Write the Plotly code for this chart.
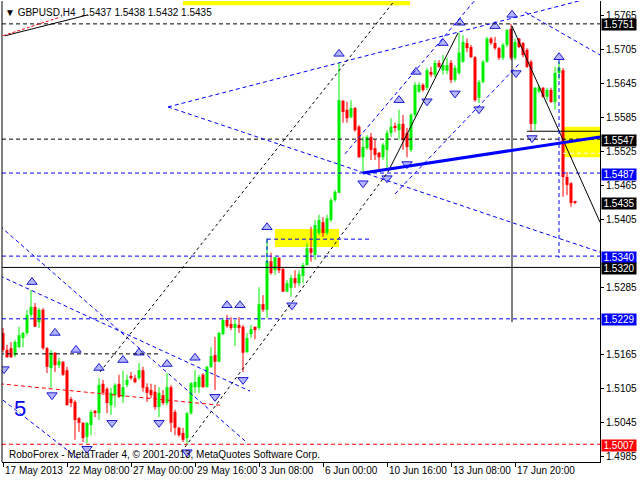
import plotly.graph_objects as go

# ---------------- data (GBPUSD H4) ----------------
bars = list(range(144))
opens = [1.5204,1.5174,1.5177,1.5165,1.5179,1.5195,1.5204,1.5236,1.5250,1.5223,
         1.5245,1.5177,1.5142,1.5169,1.5147,1.5153,1.5138,1.5087,1.5082,1.5053,
         1.5045,1.5020,1.5041,1.5066,1.5062,1.5114,1.5105,1.5076,1.5094,1.5114,
         1.5091,1.5112,1.5128,1.5124,1.5124,1.5138,1.5108,1.5103,1.5100,1.5073,
         1.5094,1.5080,1.5108,1.5064,1.5036,1.5027,1.5018,1.5062,1.5108,1.5108,
         1.5130,1.5108,1.5144,1.5165,1.5153,1.5202,1.5227,1.5220,1.5213,1.5218,
         1.5215,1.5170,1.5202,1.5215,1.5213,1.5255,1.5245,1.5331,1.5315,1.5337,
         1.5317,1.5277,1.5284,1.5301,1.5292,1.5305,1.5324,1.5354,1.5342,1.5381,
         1.5400,1.5381,1.5404,1.5439,1.5452,1.5615,1.5599,1.5586,1.5602,1.5569,
         1.5515,1.5531,1.5551,1.5531,1.5523,1.5515,1.5528,1.5558,1.5569,1.5563,
         1.5574,1.5558,1.5528,1.5590,1.5631,1.5643,1.5638,1.5666,1.5661,1.5682,
         1.5669,1.5668,1.5682,1.5652,1.5664,1.5684,1.5717,1.5710,1.5692,1.5620,
         1.5648,1.5684,1.5725,1.5717,1.5708,1.5691,1.5714,1.5742,1.5691,1.5725,
         1.5717,1.5705,1.5684,1.5574,1.5631,1.5638,1.5622,1.5634,1.5613,1.5664,
         1.5669,1.5480,1.5469,1.5437]
highs = [1.5213,1.5183,1.5188,1.5192,1.5215,1.5206,1.5245,1.5280,1.5257,1.5248,
         1.5248,1.5179,1.5174,1.5170,1.5160,1.5154,1.5144,1.5091,1.5085,1.5055,
         1.5046,1.5046,1.5068,1.5068,1.5124,1.5121,1.5108,1.5107,1.5115,1.5130,
         1.5137,1.5130,1.5135,1.5130,1.5151,1.5144,1.5115,1.5114,1.5112,1.5108,
         1.5103,1.5133,1.5112,1.5068,1.5038,1.5036,1.5064,1.5117,1.5138,1.5130,
         1.5133,1.5146,1.5179,1.5197,1.5206,1.5230,1.5236,1.5232,1.5227,1.5232,
         1.5218,1.5204,1.5218,1.5215,1.5285,1.5271,1.5372,1.5346,1.5338,1.5338,
         1.5319,1.5298,1.5307,1.5315,1.5315,1.5328,1.5363,1.5392,1.5404,1.5413,
         1.5409,1.5413,1.5443,1.5457,1.5682,1.5616,1.5613,1.5616,1.5604,1.5572,
         1.5551,1.5554,1.5558,1.5546,1.5524,1.5540,1.5563,1.5584,1.5576,1.5599,
         1.5590,1.5567,1.5593,1.5648,1.5648,1.5646,1.5673,1.5675,1.5687,1.5687,
         1.5696,1.5691,1.5687,1.5678,1.5735,1.5731,1.5725,1.5714,1.5694,1.5652,
         1.5687,1.5728,1.5728,1.5728,1.5710,1.5717,1.5742,1.5751,1.5725,1.5726,
         1.5719,1.5708,1.5687,1.5639,1.5643,1.5639,1.5638,1.5638,1.5675,1.5684,
         1.5673,1.5489,1.5471,1.5438]
lows = [1.5170,1.5160,1.5160,1.5161,1.5177,1.5179,1.5200,1.5232,1.5215,1.5213,
        1.5174,1.5133,1.5107,1.5135,1.5142,1.5128,1.5076,1.5073,1.5015,1.5029,
        1.5011,1.5009,1.5023,1.5055,1.5050,1.5094,1.5062,1.5059,1.5073,1.5089,
        1.5080,1.5108,1.5121,1.5115,1.5121,1.5100,1.5082,1.5089,1.5068,1.5055,
        1.5076,1.5076,1.5029,1.5023,1.5020,1.5011,1.5007,1.5059,1.5098,1.5098,
        1.5107,1.5108,1.5142,1.5103,1.5153,1.5200,1.5213,1.5209,1.5181,1.5204,
        1.5135,1.5169,1.5195,1.5193,1.5209,1.5241,1.5230,1.5307,1.5307,1.5310,
        1.5277,1.5277,1.5268,1.5284,1.5287,1.5292,1.5324,1.5330,1.5333,1.5377,
        1.5374,1.5377,1.5400,1.5436,1.5452,1.5576,1.5576,1.5584,1.5560,1.5514,
        1.5487,1.5528,1.5510,1.5510,1.5492,1.5510,1.5492,1.5551,1.5560,1.5546,
        1.5528,1.5515,1.5524,1.5586,1.5629,1.5631,1.5634,1.5657,1.5657,1.5673,
        1.5661,1.5662,1.5646,1.5648,1.5661,1.5682,1.5701,1.5691,1.5613,1.5611,
        1.5646,1.5682,1.5714,1.5705,1.5687,1.5687,1.5710,1.5687,1.5687,1.5708,
        1.5692,1.5673,1.5561,1.5563,1.5629,1.5620,1.5616,1.5611,1.5599,1.5652,
        1.5445,1.5448,1.5427,1.5432]
closes = [1.5174,1.5161,1.5161,1.5188,1.5200,1.5204,1.5236,1.5250,1.5215,1.5245,
          1.5177,1.5144,1.5169,1.5147,1.5154,1.5130,1.5076,1.5080,1.5050,1.5045,
          1.5018,1.5045,1.5064,1.5062,1.5112,1.5098,1.5080,1.5098,1.5112,1.5091,
          1.5108,1.5121,1.5124,1.5117,1.5138,1.5107,1.5098,1.5094,1.5073,1.5098,
          1.5080,1.5108,1.5045,1.5036,1.5023,1.5015,1.5062,1.5115,1.5117,1.5126,
          1.5108,1.5144,1.5163,1.5153,1.5204,1.5227,1.5216,1.5213,1.5220,1.5213,
          1.5169,1.5195,1.5211,1.5209,1.5255,1.5245,1.5331,1.5310,1.5338,1.5315,
          1.5277,1.5292,1.5301,1.5292,1.5308,1.5324,1.5354,1.5346,1.5395,1.5404,
          1.5381,1.5407,1.5439,1.5454,1.5616,1.5595,1.5584,1.5602,1.5563,1.5515,
          1.5533,1.5551,1.5528,1.5519,1.5515,1.5537,1.5558,1.5569,1.5567,1.5574,
          1.5546,1.5533,1.5590,1.5643,1.5643,1.5634,1.5669,1.5661,1.5682,1.5675,
          1.5678,1.5678,1.5652,1.5673,1.5700,1.5719,1.5708,1.5692,1.5616,1.5648,
          1.5684,1.5725,1.5717,1.5708,1.5691,1.5714,1.5740,1.5691,1.5719,1.5710,
          1.5696,1.5675,1.5574,1.5638,1.5639,1.5622,1.5634,1.5613,1.5664,1.5673,
          1.5480,1.5466,1.5434,1.5435]

tick_bars = [0, 16, 32, 48, 64, 80, 96, 112, 128]
tick_labels = ["17 May 2013", "22 May 08:00", "27 May 00:00", "29 May 16:00",
               "3 Jun 08:00", "6 Jun 00:00", "10 Jun 16:00", "13 Jun 08:00",
               "17 Jun 20:00"]
price_ticks = [1.4985, 1.5045, 1.5105, 1.5165, 1.5285, 1.5405, 1.5465,
               1.5525, 1.5585, 1.5645, 1.5705, 1.5765]

level_prices = [1.5751, 1.5547, 1.5487, 1.5340, 1.5320, 1.5229, 1.5007]
level_colors = ["black", "black", "#0000ff", "#0000ff", "black", "#0000ff", "#ff0000"]
level_dash = ["4px,3px", "4px,3px", "4px,3px", "4px,3px", "solid", "4px,3px", "4px,3px"]

box_texts = ["1.5751", "1.5547", "1.5487", "1.5435", "1.5340", "1.5320", "1.5229", "1.5007"]
box_colors = ["black", "black", "#0000ff", "black", "#0000ff", "black", "#0000ff", "#ff0000"]

# trend lines: bar0, price0, bar1, price1, colour, width, dash
trend_lines = [
    (41.25, 1.5604, 144.25, 1.5792, "#0000ff", 1, "4px,3px"),
    (41.25, 1.5604, 149.25, 1.5347, "#0000ff", 1, "4px,3px"),
    (-0.75, 1.5305, 61.75, 1.5101, "#0000ff", 1, "4px,3px"),
    (-0.75, 1.5393, 60.5, 1.5013, "#0000ff", 1, "4px,3px"),
    (0.0, 1.5085, 19.25, 1.4979, "#0000ff", 1, "4px,3px"),
    (24.25, 1.5135, 98.0, 1.5793, "black", 1, "3px,3px"),
    (45.5, 1.5002, 96.25, 1.5489, "black", 1, "3px,3px"),
    (96.25, 1.5489, 113.75, 1.5735, "black", 1, "solid"),
    (127.25, 1.5747, 149.25, 1.5400, "black", 1, "solid"),
    (127.25, 1.5747, 127.25, 1.5223, "black", 1, "solid"),
    (131.0, 1.5561, 149.25, 1.5561, "black", 1, "solid"),
    (139.0, 1.5687, 139.0, 1.5337, "#0000ff", 1, "4px,3px"),
    (85.5, 1.5521, 118.0, 1.5793, "#0000ff", 1, "4px,3px"),
    (98.0, 1.5450, 129.25, 1.5682, "#0000ff", 1, "4px,3px"),
    (130.5, 1.5772, 149.25, 1.5696, "#0000ff", 1, "4px,3px"),
    (-0.75, 1.5167, 39.25, 1.5167, "black", 1, "4px,3px"),
    (-0.75, 1.5114, 54.25, 1.5076, "#ff0000", 1, "4px,3px"),
    (0.5, 1.5730, 21.25, 1.5767, "black", 1, "solid"),
    (0.0, 1.5730, 14.25, 1.5763, "#ff0000", 1, "3px,2px"),
    (66.0, 1.5370, 92.25, 1.5370, "#0000ff", 1, "4px,3px"),
    (66.0, 1.5370, 66.0, 1.5328, "#0000ff", 1, "4px,3px"),
    (140.0, 1.5522, 149.25, 1.5522, "white", 1, "4px,3px"),
    (90.0, 1.5487, 149.25, 1.5551, "#0000ff", 3, "solid"),
]

# yellow rectangles: bar0, bar1, price0, price1
rects = [
    (45.0, 101.75, 1.5784, 1.5792),
    (68.0, 84.0, 1.5356, 1.5388),
    (140.0, 149.25, 1.5515, 1.5569),
]

up_arrow_bar = [7.25, 13, 18.25, 24, 30, 34, 41, 48, 56, 59.25, 66, 84, 99,
                103.25, 110, 114.25, 123, 127.25, 139]
up_arrow_price = [1.5294, 1.5204, 1.5174, 1.5142, 1.5156, 1.5169, 1.5149, 1.5160,
                  1.5253, 1.5253, 1.5391, 1.5698, 1.5616, 1.5666, 1.5717, 1.5753,
                  1.5747, 1.5767, 1.5692]
down_arrow_bar = [0.25, 12.25, 21, 27.25, 39, 46, 53, 60, 72.25, 90, 96, 101,
                  106, 113, 119, 128.25, 132.25]
down_arrow_price = [1.5140, 1.5094, 1.4999, 1.5045, 1.5045, 1.4993, 1.5091, 1.5121,
                    1.5253, 1.5469, 1.5478, 1.5503, 1.5614, 1.5628, 1.5600, 1.5664,
                    1.5549]

# ---------------- figure ----------------
FONT = "Liberation Sans"
GREEN = "#00ee00"
RED = "#ff0000"

fig = go.Figure()

up = [i for i in bars if closes[i] >= opens[i]]
dn = [i for i in bars if closes[i] < opens[i]]

def wick_xy(sel):
    xs, ys = [], []
    for i in sel:
        xs += [bars[i], bars[i], None]
        ys += [lows[i], highs[i], None]
    return xs, ys

for sel, col in ((up, GREEN), (dn, RED)):
    wx, wy = wick_xy(sel)
    fig.add_trace(go.Scatter(x=wx, y=wy, mode="lines",
                             line=dict(color=col, width=1),
                             hoverinfo="skip", showlegend=False))
    fig.add_trace(go.Bar(
        x=[bars[i] for i in sel],
        base=[min(opens[i], closes[i]) for i in sel],
        y=[max(abs(closes[i] - opens[i]), 0.00012) for i in sel],
        width=0.75, marker=dict(color=col, line=dict(width=0)),
        hoverinfo="skip", showlegend=False))

fig.add_trace(go.Scatter(x=up_arrow_bar, y=up_arrow_price, mode="markers",
                         marker=dict(symbol="triangle-up", size=9, color="#b4b4ff",
                                     line=dict(color="#1a1ad0", width=1)),
                         hoverinfo="skip", showlegend=False))
fig.add_trace(go.Scatter(x=down_arrow_bar, y=down_arrow_price, mode="markers",
                         marker=dict(symbol="triangle-down", size=9, color="#b4b4ff",
                                     line=dict(color="#1a1ad0", width=1)),
                         hoverinfo="skip", showlegend=False))

shapes = []
for x0, x1, y0, y1 in rects:
    shapes.append(dict(type="rect", xref="x", yref="y", x0=x0, x1=x1, y0=y0, y1=y1,
                       fillcolor="#ffff00", line=dict(width=0), layer="below"))
for p, c, d in zip(level_prices, level_colors, level_dash):
    shapes.append(dict(type="line", xref="paper", yref="y", x0=0, x1=1, y0=p, y1=p,
                       line=dict(color=c, width=1, dash=d)))
for x0, y0, x1, y1, c, w, d in trend_lines:
    shapes.append(dict(type="line", xref="x", yref="y", x0=x0, y0=y0, x1=x1, y1=y1,
                       line=dict(color=c, width=w, dash=d)))
shapes.append(dict(type="line", xref="paper", yref="paper", x0=0, x1=0, y0=0, y1=1,
                   line=dict(color="black", width=1)))

annotations = []
for t, c in zip(box_texts, box_colors):
    annotations.append(dict(xref="paper", yref="y", x=1, y=float(t), xanchor="left",
                            yanchor="middle", xshift=1, yshift=-1, text=t, showarrow=False,
                            bgcolor=c, borderpad=0, height=11, width=34,
                            font=dict(family=FONT, size=10, color="white")))
for b, t in zip(tick_bars, tick_labels):
    annotations.append(dict(xref="x", yref="paper", x=b, y=0, xanchor="left",
                            yanchor="top", xshift=0, yshift=-1, text=t, showarrow=False,
                            font=dict(family=FONT, size=10, color="black")))
annotations.append(dict(xref="paper", yref="paper", x=0.002, y=0.976, xanchor="left",
                        yanchor="middle", showarrow=False,
                        text="▼ GBPUSD,H4  1.5437 1.5438 1.5432 1.5435",
                        font=dict(family=FONT, size=10, color="black")))
annotations.append(dict(xref="paper", yref="paper", x=0.008, y=0.016, xanchor="left",
                        yanchor="middle", showarrow=False,
                        text="RoboForex - MetaTrader 4, © 2001-2013, MetaQuotes Software Corp.",
                        font=dict(family=FONT, size=10, color="black")))
annotations.append(dict(xref="x", yref="y", x=4.25, y=1.5071, showarrow=False,
                        text="5", font=dict(family=FONT, size=22, color="#0000ee")))

fig.update_layout(
    width=640, height=480,
    margin=dict(l=2, r=40, t=1, b=18),
    paper_bgcolor="white", plot_bgcolor="white",
    showlegend=False, barmode="overlay",
    shapes=shapes, annotations=annotations,
    xaxis=dict(range=[-0.25, 149.25], tickvals=tick_bars, showticklabels=False,
               ticks="outside", ticklen=4, tickcolor="black",
               showline=True, linecolor="black", linewidth=1,
               showgrid=False, zeroline=False, fixedrange=True),
    yaxis=dict(range=[1.49756, 1.57915], side="right", tickvals=price_ticks,
               tickformat=".4f", ticks="outside", ticklen=3, tickcolor="black",
               tickfont=dict(family=FONT, size=10, color="black"),
               showline=True, linecolor="black", linewidth=1,
               showgrid=False, zeroline=False, fixedrange=True),
)

fig.write_html("out.html", config={"displayModeBar": False},
               post_script="document.body.style.margin='0';"
                           "document.body.style.overflow='hidden';")
